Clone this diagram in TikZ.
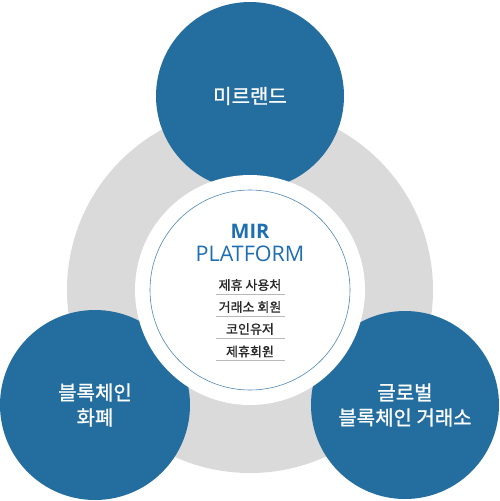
\documentclass[tikz,border=0pt]{standalone}
\usepackage{fontspec}
\newfontfamily\kr[FakeBold=1.0]{Noto Sans CJK KR}
\newfontfamily\lat{Open Sans}
\usetikzlibrary{calc}
\definecolor{mblue}{RGB}{35,110,158}
\definecolor{ringgray}{RGB}{218,218,218}
\definecolor{thinblue}{RGB}{80,135,180}
\definecolor{titleblue}{RGB}{30,110,178}
\definecolor{itemtext}{RGB}{40,40,40}
\definecolor{ulinegray}{RGB}{185,185,185}
\begin{document}
\begin{tikzpicture}[x=1pt,y=-1pt,
  disc/.style={circle,inner sep=0pt,fill=mblue,text=white,align=center,
    font=\kr\fontsize{20}{25}\selectfont},
  itemlabel/.style={inner sep=0pt,text=itemtext,font=\kr\fontsize{13}{14}\selectfont},
  uline/.style={draw=ulinegray,line width=0.8pt}]
\useasboundingbox (0,0) rectangle (500,501);
\node[circle,fill=ringgray,minimum size=366pt,inner sep=0pt] (ring) at (250,290) {};
\node[disc,minimum size=188pt] (top) at (250,96) {미르랜드};
\node[disc,minimum size=190pt] (left) at (95,405) {블록체인\\화폐};
\node[disc,minimum size=188pt] (right) at (405,405) {글로벌\\블록체인 거래소};
\node[circle,fill=white,minimum size=230pt,inner sep=0pt] (core) at (250,290) {};
\node[circle,draw=thinblue,line width=0.6pt,minimum size=200pt,inner sep=0pt] (inner) at (250,290) {};
\node[text=titleblue,font=\lat\bfseries\fontsize{20}{22}\selectfont,inner sep=0pt] (mir) at (250,231) {MIR};
\node[text=titleblue,font=\lat\fontsize{21.5}{23}\selectfont,inner sep=0pt] (plat) at (250,253.5) {PLATFORM};
\node[itemlabel] (i1) at (250,285) {제휴 사용처};
\node[itemlabel] (i2) at (250,307) {거래소 회원};
\node[itemlabel] (i3) at (250,329) {코인유저};
\node[itemlabel] (i4) at (250,351.5) {제휴회원};
\draw[uline] ($(i1)+(-34,9)$) -- ($(i1)+(35,9)$);
\draw[uline] ($(i2)+(-34,9)$) -- ($(i2)+(35,9)$);
\draw[uline] ($(i3)+(-34,9)$) -- ($(i3)+(35,9)$);
\draw[uline] ($(i4)+(-34,8.5)$) -- ($(i4)+(35,8.5)$);
\end{tikzpicture}
\end{document}
